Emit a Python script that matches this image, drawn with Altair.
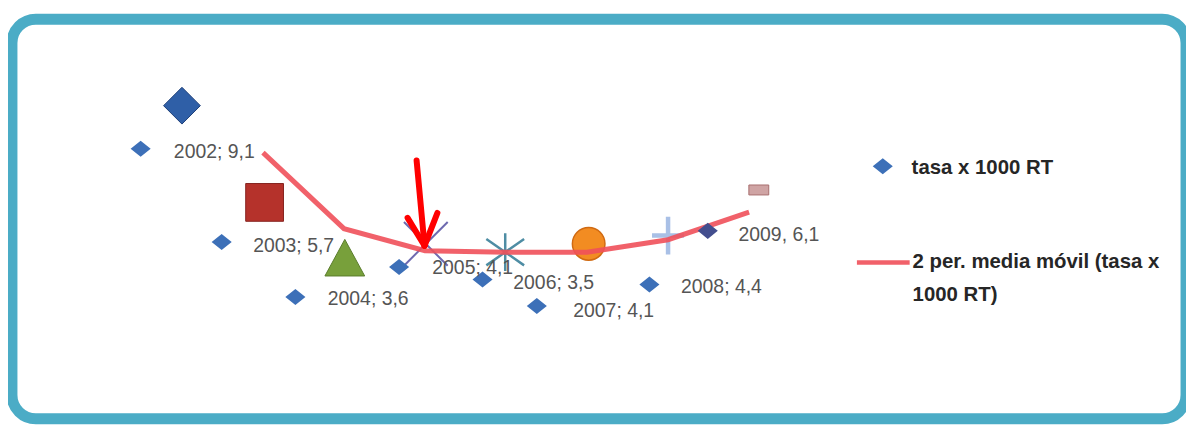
import altair as alt
import pandas as pd

# ---- data ----
years = [2002, 2003, 2004, 2005, 2006, 2007, 2008, 2009]
tasa = [9.1, 5.7, 3.6, 4.1, 3.5, 4.1, 4.4, 6.1]
label_text = ["2002; 9,1", "2003; 5,7", "2004; 3,6", "2005; 4,1",
              "2006; 3,5", "2007; 4,1", "2008; 4,4", "2009, 6,1"]

# big decorative markers (position as drawn)
marker_x = [2002.0, 2003.02, 2004.01, 2005.01, 2005.99, 2007.02, 2008.0, 2009.12]
marker_y = [9.1, 5.6, 3.6, 4.1, 3.8, 4.1, 4.4, 6.05]

# small diamonds (displaced, as drawn)
small_x = [2001.49, 2002.49, 2003.40, 2004.68, 2005.71, 2006.38, 2007.77, 2008.49]
small_y = [7.54, 4.17, 2.18, 3.26, 2.81, 1.85, 2.63, 4.57]

# data labels (as drawn)
lab_x = [2001.90, 2002.88, 2003.80, 2005.09, 2006.09, 2006.83, 2008.16, 2008.87]
lab_y = [7.41, 4.03, 2.09, 3.24, 2.70, 1.67, 2.55, 4.42]

# 2-period moving average
ma_years = [2003, 2004, 2005, 2006, 2007, 2008, 2009]
ma_vals = [7.4, 4.65, 3.85, 3.8, 3.8, 4.25, 5.25]

# red annotation arrow (segments: shaft, left wing, right wing)
arrow_x1 = [2004.896, 2004.785, 2005.153]
arrow_y1 = [7.12, 5.04, 5.22]
arrow_x2 = [2004.994, 2004.994, 2004.994]
arrow_y2 = [4.03, 4.03, 4.03]

# legend entries
leg_series = ["tasa x 1000 RT", "2 per. media móvil (tasa x", "1000 RT)"]
leg_text_x = [2011.006, 2011.018, 2011.018]
leg_text_y = [6.835, 3.453, 2.266]
leg_marker_x = [2010.65]
leg_marker_y = [6.906]
leg_line_x = [2010.331, 2010.982]
leg_line_y = [3.428, 3.428]

# ---- scales ----
xs = alt.Scale(domain=[1999.9018, 2014.393], nice=False, zero=False)
ys = alt.Scale(domain=[-2.230, 12.230], nice=False, zero=False)
X = lambda f: alt.X(f, type="quantitative", scale=xs, axis=None)
Y = lambda f: alt.Y(f, type="quantitative", scale=ys, axis=None)

FONT = "Liberation Sans, Arial, Helvetica, sans-serif"

marker_styles = [
    dict(shape="diamond", size=1369, fill="#2F5FA7", stroke="#1E4079", sw=1, filled=True),
    dict(shape="square", size=1444, fill="#B5322B", stroke="#86231F", sw=1, filled=True),
    dict(shape="M0,-0.92L-1,0.92L1,0.92Z", size=1600, fill="#78A03B", stroke="#5A7C2B", sw=1, filled=True),
    dict(shape="M-1,-1L1,1M-1,1L1,-1", size=1936, stroke="#6E6AB0", sw=2, filled=False),
    dict(shape="M-1,-0.7L1,0.7M-1,0.7L1,-0.7M0,-1L0,1", size=1444, stroke="#4E8DA4", sw=2.5, filled=False),
    dict(shape="circle", size=1075, fill="#F28C22", stroke="#D06A12", sw=1.5, filled=True),
    dict(shape="M0,-1L0,1M-0.85,0L0.85,0", size=1444, stroke="#A9C0E6", sw=4.5, filled=False),
    dict(shape="M-1,-0.5L1,-0.5L1,0.5L-1,0.5Z", size=400, fill="#CFA4A4", stroke="#A86E6E", sw=1, filled=True),
]

layers = []
for i, st in enumerate(marker_styles):
    d = pd.DataFrame({"x": [marker_x[i]], "y": [marker_y[i]], "year": [years[i]], "tasa": [tasa[i]]})
    kw = dict(shape=st["shape"], size=st["size"], stroke=st["stroke"],
              strokeWidth=st["sw"], opacity=1, filled=st["filled"])
    if st["filled"]:
        kw["fill"] = st["fill"]
    layers.append(alt.Chart(d).mark_point(**kw).encode(x=X("x"), y=Y("y")))

ma_df = pd.DataFrame({"x": ma_years, "y": ma_vals})
line = alt.Chart(ma_df).mark_line(color="#F0505A", strokeWidth=5, opacity=0.9).encode(x=X("x"), y=Y("y"))
layers.append(line)

small_colors = ["#3D70B8"] * 7 + ["#434E8E"]
sd = pd.DataFrame({"x": small_x, "y": small_y, "c": small_colors, "year": years})
small = alt.Chart(sd).mark_point(shape="M-1,0L0,-0.8L1,0L0,0.8Z", size=289, filled=True, opacity=1).encode(
    x=X("x"), y=Y("y"), fill=alt.Fill("c:N", scale=None), stroke=alt.Stroke("c:N", scale=None))
layers.append(small)

ld = pd.DataFrame({"x": lab_x, "y": lab_y, "t": label_text})
labels = alt.Chart(ld).mark_text(align="left", baseline="middle", font=FONT, fontSize=19.5,
                                 color="#555555").encode(x=X("x"), y=Y("y"), text="t:N")
layers.append(labels)

ad = pd.DataFrame({"x": arrow_x1, "y": arrow_y1, "x2": arrow_x2, "y2": arrow_y2})
arrow = alt.Chart(ad).mark_rule(color="#FF0000", strokeWidth=6, strokeCap="round").encode(
    x=X("x"), y=Y("y"), x2="x2:Q", y2="y2:Q")
layers.append(arrow)

# legend
lm = pd.DataFrame({"x": leg_marker_x, "y": leg_marker_y})
layers.append(alt.Chart(lm).mark_point(shape="M-1,0L0,-0.8L1,0L0,0.8Z", size=289, filled=True,
                                       opacity=1, fill="#3D70B8", stroke="#3D70B8").encode(x=X("x"), y=Y("y")))
ll = pd.DataFrame({"x": leg_line_x, "y": leg_line_y})
layers.append(alt.Chart(ll).mark_line(color="#F0505A", strokeWidth=4.5, opacity=0.9).encode(x=X("x"), y=Y("y")))
lt = pd.DataFrame({"x": leg_text_x, "y": leg_text_y, "t": leg_series})
layers.append(alt.Chart(lt).mark_text(align="left", baseline="middle", font=FONT, fontSize=20.5,
                                      fontWeight="bold", color="#262626").encode(x=X("x"), y=Y("y"), text="t:N"))

chart = alt.layer(*layers).properties(
    width=1181, height=402,
    padding={"left": 4, "top": 10, "right": 0, "bottom": 6},
    autosize=alt.AutoSizeParams(type="none"),
    background="white",
).configure_view(stroke="#4BACC6", strokeWidth=11, cornerRadius=24)

chart.save("out.html", embed_options={"renderer": "svg", "actions": False})
